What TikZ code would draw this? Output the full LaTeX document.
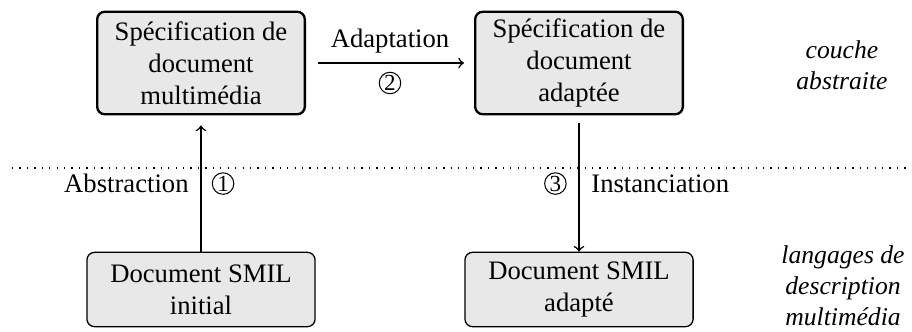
\documentclass[tikz,border=0pt]{standalone}
\usepackage{fontspec}
\setmainfont{Liberation Serif}
\tikzset{
	specbox/.style={draw, line width=0.9pt, rounded corners=3pt, fill=black!9,
		minimum width=81pt, minimum height=40pt, inner sep=0pt, align=center},
	smilbox/.style={draw, line width=0.5pt, rounded corners=3pt, fill=black!9,
		minimum width=89pt, minimum height=29pt, inner sep=0pt, align=center},
	numcirc/.style={circle, draw, line width=0.4pt, minimum size=8.4pt, inner sep=0pt, font=\small},
	couche/.style={align=center, font=\itshape},
}
\begin{document}
\begin{tikzpicture}[x=0.39pt, y=-0.39pt, font=\fontsize{10.4}{12.4}\selectfont]
	\useasboundingbox (0, 0) rectangle (912, 331);
		% couche abstraite
		\node [specbox] (spec) at (201, 63) {Spécification de\\document\\multimédia};
		\node [specbox] (specad) at (579, 63) {Spécification de\\document\\adaptée};
		% langages
		\node [smilbox] (smil) at (201, 289.5) {Document SMIL\\initial};
		\node [smilbox] (smilad) at (579, 289.5) {Document SMIL\\adapté};
		% separation
		\draw[line width=0.6pt, dash pattern=on 0.5pt off 2.4pt] (12, 168) to (906, 168);
		\node [couche] (abs) at (842, 65) {couche\\abstraite};
		\node [couche] (lang) at (843, 286) {langages de\\description\\multimédia};
		% fleches
		\draw[semithick, ->, shorten <=4.7pt, shorten >=3.9pt] (spec) to
			node [above=0.2pt] (adapt) {Adaptation}
			node [below=3.4pt, numcirc] (n2) {2} (specad);
		\draw[semithick, ->, shorten >=3.9pt] (smil) to
			node [left=1.2pt] (absl) {Abstraction}
			node [right=4.2pt, numcirc] (n1) {1} (spec);
		\draw[semithick, ->, shorten <=2.8pt] (specad) to
			node [left=4.8pt, numcirc] (n3) {3}
			node [right=1.2pt] (inst) {Instanciation} (smilad);
	\end{tikzpicture}
\end{document}
